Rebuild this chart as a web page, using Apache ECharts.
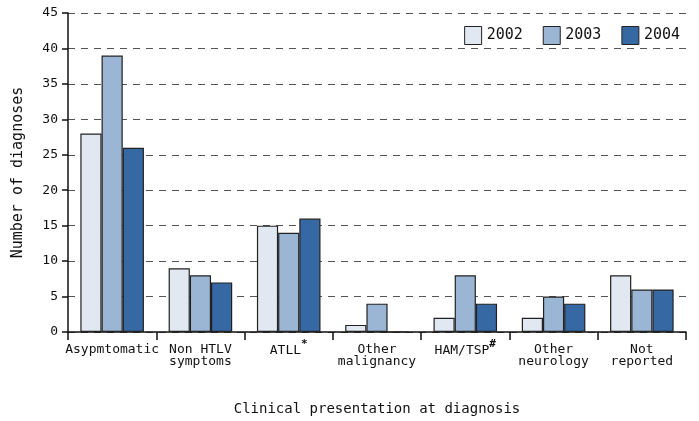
<!DOCTYPE html>
<html><head><meta charset="utf-8">
<script src="https://cdn.jsdelivr.net/npm/echarts@6/dist/echarts.min.js"></script>
<style>html,body{margin:0;padding:0;background:#fff}#c{width:699px;height:421px}</style>
</head><body><div id="c"></div>
<script>
const categories = ['Asypmtomatic', 'Non HTLV\nsymptoms', 'ATLL{sup|*}', 'Other\nmalignancy', 'HAM/TSP{sup|#}', 'Other\nneurology', 'Not\nreported'];
const years = ['2002', '2003', '2004'];
const v2002 = [28, 9, 15, 1, 2, 2, 8];
const v2003 = [39, 8, 14, 4, 8, 5, 6];
const v2004 = [26, 7, 16, 0, 4, 4, 6];
const colors = ['#e1e8f2', '#9bb5d5', '#3668a4'];
const FONT = '"DejaVu Sans Mono", monospace';

const catData = categories.map(c => c.indexOf('{sup|') >= 0
  ? {value: c.replace(/^([^{]+)/, '{n|$1}'), textStyle: {padding: [-5, 0, 0, 0]}}
  : c);

const chart = echarts.init(document.getElementById('c'), null, {renderer: 'canvas'});
const mk = (name, data, i) => ({
  name, type: 'bar', data, barGap: '0%', barCategoryGap: '28%',
  itemStyle: {color: colors[i], borderColor: '#222', borderWidth: 1.2},
  emphasis: {disabled: true}
});
chart.setOption({
  animation: false,
  textStyle: {fontFamily: FONT},
  grid: {left: 68, right: 13, top: 13, bottom: 88, containLabel: false},
  legend: {
    data: years, right: 14, top: 21, itemWidth: 17, itemHeight: 18, itemGap: 20,
    icon: 'rect',
    textStyle: {fontFamily: FONT, fontSize: 15, color: '#111'},
    itemStyle: {borderColor: '#222', borderWidth: 1}
  },
  xAxis: {
    type: 'category', data: catData,
    name: 'Clinical presentation at diagnosis', nameLocation: 'middle', nameGap: 70,
    nameTextStyle: {fontFamily: FONT, fontSize: 14, color: '#111'},
    axisLine: {lineStyle: {color: '#111', width: 1.5}},
    axisTick: {show: true, length: 8, lineStyle: {color: '#111', width: 1.5}},
    axisLabel: {
      interval: 0, fontFamily: FONT, fontSize: 13, color: '#111', margin: 12, lineHeight: 12,
      rich: {
        n: {fontFamily: FONT, fontSize: 13, color: '#111', lineHeight: 12, verticalAlign: 'bottom'},
        sup: {fontFamily: FONT, fontSize: 11, fontWeight: 'bold', color: '#111', lineHeight: 18, verticalAlign: 'top'}
      }
    }
  },
  yAxis: {
    type: 'value', min: 0, max: 45, interval: 5,
    name: 'Number of diagnoses', nameLocation: 'middle', nameGap: 42,
    nameTextStyle: {fontFamily: FONT, fontSize: 15, color: '#111'},
    axisLine: {show: true, lineStyle: {color: '#111', width: 1.5}},
    axisTick: {show: true, length: 6, lineStyle: {color: '#111', width: 1.5}},
    axisLabel: {fontFamily: FONT, fontSize: 13, color: '#111', margin: 10},
    splitLine: {show: true, lineStyle: {color: '#555', type: [7, 6], width: 1}}
  },
  series: [mk(years[0], v2002, 0), mk(years[1], v2003, 1), mk(years[2], v2004, 2)]
});
</script></body></html>
